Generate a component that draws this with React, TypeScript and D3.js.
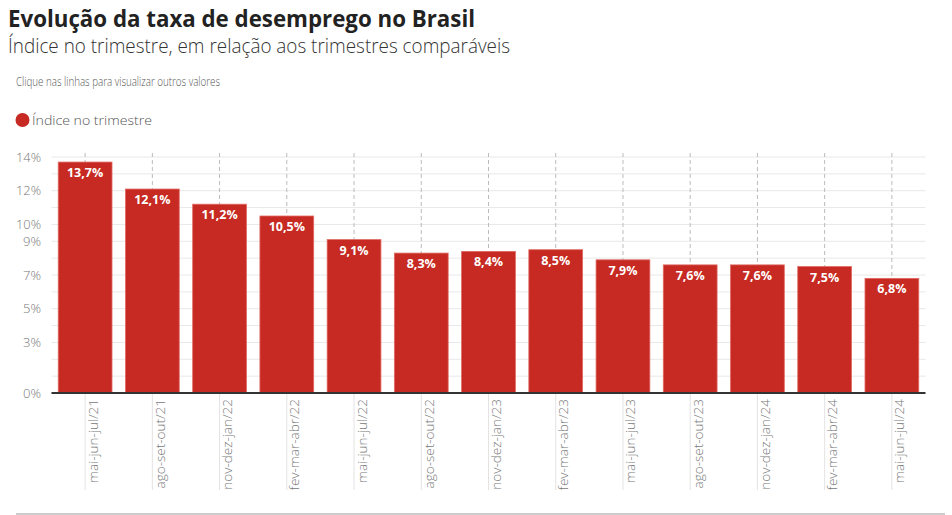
import React from "react";
import * as d3 from "d3";

const categories = [
  "mai-jun-jul/21", "ago-set-out/21", "nov-dez-jan/22", "fev-mar-abr/22",
  "mai-jun-jul/22", "ago-set-out/22", "nov-dez-jan/23", "fev-mar-abr/23",
  "mai-jun-jul/23", "ago-set-out/23", "nov-dez-jan/24", "fev-mar-abr/24",
  "mai-jun-jul/24",
];
const values = [13.7, 12.1, 11.2, 10.5, 9.1, 8.3, 8.4, 8.5, 7.9, 7.6, 7.6, 7.5, 6.8];
const yTickLabels = [0, 3, 5, 7, 9, 10, 12, 14];
const gridValues = d3.range(0, 15, 1);

const W = 952;
const H = 515;
const FONT = "'Open Sans', sans-serif";

export default function App() {
  const x = d3.scaleBand<string>().domain(categories).range([51.5, 925.5]).paddingInner(0.2).paddingOuter(0.1);
  const y = d3.scaleLinear().domain([0, 14]).range([393, 157]);
  const fmt = (v: number) => v.toFixed(1).replace(".", ",") + "%";
  const [x0, x1] = x.range();

  return (
    <div style={{ position: "absolute", left: 0, top: 0 }}>
      <svg width={W} height={H} style={{ display: "block", background: "#fff" }}>
        <text x={8} y={27} fontFamily={FONT} fontWeight={700} fontSize={23.5} fill="#222" textLength={467} lengthAdjust="spacingAndGlyphs">
          Evolução da taxa de desemprego no Brasil
        </text>
        <text x={8} y={53} fontFamily={FONT} fontWeight={300} fontSize={19.5} fill="#333" textLength={502} lengthAdjust="spacingAndGlyphs">
          Índice no trimestre, em relação aos trimestres comparáveis
        </text>
        <text x={16} y={86} fontFamily={FONT} fontWeight={300} fontSize={12} fill="#555" textLength={204} lengthAdjust="spacingAndGlyphs">
          Clique nas linhas para visualizar outros valores
        </text>
        <circle cx={22.5} cy={120} r={7} fill="#c62a22" />
        <text x={32} y={125} fontFamily={FONT} fontWeight={300} fontSize={13} fill="#555" textLength={120} lengthAdjust="spacingAndGlyphs">
          Índice no trimestre
        </text>

        {gridValues.map((g) => (
          <line key={"g" + g} x1={x0} x2={x1} y1={y(g)} y2={y(g)} stroke="#e8e8e8" strokeWidth={1} />
        ))}
        {categories.map((c) => {
          const cx = (x(c) as number) + x.bandwidth() / 2;
          return (
            <g key={"v" + c}>
              <line x1={cx} x2={cx} y1={153} y2={y(0)} stroke="#bbb" strokeWidth={1} strokeDasharray="4,3" />
              <line x1={cx} x2={cx} y1={y(0)} y2={490} stroke="#e3e3e3" strokeWidth={1} />
            </g>
          );
        })}

        {yTickLabels.map((t) => (
          <text key={"yl" + t} x={41} y={y(t) + 4.5} textAnchor="end" fontFamily={FONT} fontWeight={300} fontSize={13} fill="#777" textLength={t >= 10 ? 25 : 18} lengthAdjust="spacingAndGlyphs">
            {t + "%"}
          </text>
        ))}

        {categories.map((c, i) => (
          <rect key={"b" + c} x={x(c)} y={y(values[i])} width={x.bandwidth()} height={y(0) - y(values[i])} fill="#c62a22" stroke="#e06a63" strokeWidth={0.8} />
        ))}
        {categories.map((c, i) => (
          <text key={"l" + c} x={(x(c) as number) + x.bandwidth() / 2} y={y(values[i]) + 15} textAnchor="middle" fontFamily={FONT} fontWeight={700} fontSize={12.5} fill="#fff">
            {fmt(values[i])}
          </text>
        ))}

        <line x1={x0} x2={x1} y1={y(0)} y2={y(0)} stroke="#333" strokeWidth={2} />

        {categories.map((c) => {
          const cx = (x(c) as number) + x.bandwidth() / 2;
          return (
            <text key={"xl" + c} transform={`translate(${cx + 12.5},399) rotate(-90)`} textAnchor="end" fontFamily={FONT} fontWeight={300} fontSize={13.5} fill="#777">
              {c}
            </text>
          );
        })}

        <line x1={16} x2={945} y1={514} y2={514} stroke="#ccc" strokeWidth={2} />
      </svg>
    </div>
  );
}
